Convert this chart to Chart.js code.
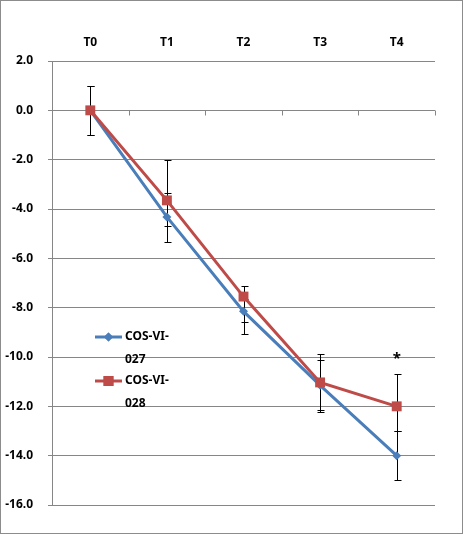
<!DOCTYPE html>
<html>
<head>
<meta charset="utf-8">
<script src="https://cdn.jsdelivr.net/npm/chart.js@4/dist/chart.umd.min.js"></script>
<style>
    html, body { margin: 0; padding: 0; background: #ffffff; }
    #wrap {
        width: 463px; height: 534px; box-sizing: border-box;
        border: 1px solid #8c8c8c; background: #ffffff;
    }
    #chart { display: block; }
</style>
</head>
<body>
<div id="wrap"><canvas id="chart" width="461" height="532"></canvas></div>
<script>
// Dados
const categories = ['T0', 'T1', 'T2', 'T3', 'T4'];
const seriesLabels = ['COS-VI-027', 'COS-VI-028'];
const cos027 = [0, -4.32, -8.15, -11.15, -14.0];
const cos028 = [0, -3.65, -7.55, -11.03, -12.0];
// Barras de erro (acima / abaixo)
const err027Plus = [1.0, 0.95, 0.5, 1.04, 1.02];
const err027Minus = [1.0, 1.0, 0.9, 1.08, 0.97];
const err028Plus = [1.0, 1.62, 0.43, 1.17, 1.3];
const err028Minus = [1.0, 1.05, 1.05, 1.1, 1.02];
// Eixo Y
const yMin = -16;
const yMax = 2;
const yStep = 2;
// Marca de significância
const markIndex = 4;
const markText = '*';

const blue = '#4A7EBB';
const red = '#BE4B48';
const gridGray = '#868686';
const fontFamily = '"Noto Sans", "DejaVu Sans", sans-serif';

// Plugin: barras de erro desenhadas antes das linhas
const errorBars = {
    id: 'errorBars',
    beforeDatasetsDraw(chart) {
        const ctx = chart.ctx;
        const x = chart.scales.x;
        const y = chart.scales.y;
        const sets = [
            { data: cos027, plus: err027Plus, minus: err027Minus },
            { data: cos028, plus: err028Plus, minus: err028Minus }
        ];
        ctx.save();
        ctx.strokeStyle = '#000000';
        ctx.lineWidth = 1;
        sets.forEach(s => {
            s.data.forEach((v, i) => {
                const px = Math.round(x.getPixelForValue(i)) + 0.5;
                const top = Math.round(y.getPixelForValue(v + s.plus[i])) + 0.5;
                const bot = Math.round(y.getPixelForValue(v - s.minus[i])) + 0.5;
                ctx.beginPath();
                ctx.moveTo(px, top); ctx.lineTo(px, bot);
                ctx.moveTo(px - 3, top); ctx.lineTo(px + 4, top);
                ctx.moveTo(px - 3, bot); ctx.lineTo(px + 4, bot);
                ctx.stroke();
            });
        });
        // marcas do eixo X sobre a linha do zero
        const y0 = Math.round(y.getPixelForValue(0)) + 0.5;
        ctx.strokeStyle = gridGray;
        for (let i = 0; i < categories.length; i++) {
            const bx = Math.round((x.getPixelForValue(i) + x.getPixelForValue(i + 1)) / 2) + 0.5;
            ctx.beginPath();
            ctx.moveTo(bx, y0); ctx.lineTo(bx, y0 + 5);
            ctx.stroke();
        }
        ctx.restore();
    },
    afterDraw(chart) {
        const ctx = chart.ctx;
        const x = chart.scales.x;
        const y = chart.scales.y;
        const area = chart.chartArea;
        ctx.save();
        // asterisco
        ctx.fillStyle = '#000000';
        ctx.font = 'bold 15px ' + fontFamily;
        ctx.textAlign = 'center';
        ctx.textBaseline = 'middle';
        const ay = y.getPixelForValue(cos028[markIndex] + err028Plus[markIndex]) - 16;
        ctx.fillText(markText, x.getPixelForValue(markIndex), ay);
        // legenda
        const colors = [blue, red];
        const styles = ['rectRot', 'rect'];
        const radii = [4.5, 7];
        ctx.font = 'bold 12px ' + fontFamily;
        ctx.textAlign = 'left';
        seriesLabels.forEach((label, i) => {
            const ly = area.top + 276 + i * 44;
            const lx = area.left + 43;
            ctx.strokeStyle = colors[i];
            ctx.lineWidth = 3;
            ctx.beginPath();
            ctx.moveTo(lx, ly); ctx.lineTo(lx + 27, ly);
            ctx.stroke();
            ctx.fillStyle = colors[i];
            Chart.helpers.drawPoint(ctx, { pointStyle: styles[i], radius: radii[i], borderWidth: 0 }, lx + 13.5, ly);
            ctx.fill();
            ctx.fillStyle = '#000000';
            const head = label.slice(0, 7);
            const tail = label.slice(7);
            ctx.fillText(head, lx + 30, ly);
            ctx.fillText(tail, lx + 30, ly + 23);
        });
        ctx.restore();
    }
};

const ctx = document.getElementById('chart').getContext('2d');
new Chart(ctx, {
    type: 'line',
    data: {
        labels: categories,
        datasets: [
            {
                label: seriesLabels[0],
                data: cos027,
                borderColor: blue,
                backgroundColor: blue,
                borderWidth: 3,
                pointStyle: 'rectRot',
                pointRadius: 4.5,
                pointBorderWidth: 0,
                tension: 0,
                order: 1
            },
            {
                label: seriesLabels[1],
                data: cos028,
                borderColor: red,
                backgroundColor: red,
                borderWidth: 3,
                pointStyle: 'rect',
                pointRadius: 7,
                pointBorderWidth: 0,
                tension: 0,
                order: 0
            }
        ]
    },
    options: {
        responsive: false,
        animation: false,
        layout: { padding: { left: 3, right: 27, top: 26, bottom: 28 } },
        plugins: {
            legend: { display: false },
            tooltip: { enabled: false }
        },
        scales: {
            x: {
                position: 'top',
                offset: true,
                grid: { display: false, drawTicks: false },
                border: { display: false },
                ticks: {
                    color: '#000000',
                    padding: 11,
                    font: { family: fontFamily, size: 12, weight: 'bold' }
                },
                afterFit(scale) { scale.height = 34; }
            },
            y: {
                min: yMin,
                max: yMax,
                grid: { color: gridGray, lineWidth: 1, tickLength: 4, drawTicks: true },
                border: { display: true, color: gridGray, width: 1 },
                ticks: {
                    stepSize: yStep,
                    color: '#000000',
                    padding: 15,
                    font: { family: fontFamily, size: 12, weight: 'bold' },
                    callback: v => v.toFixed(1)
                },
                afterFit(scale) { scale.width = 48; }
            }
        }
    },
    plugins: [errorBars]
});
</script>
</body>
</html>
